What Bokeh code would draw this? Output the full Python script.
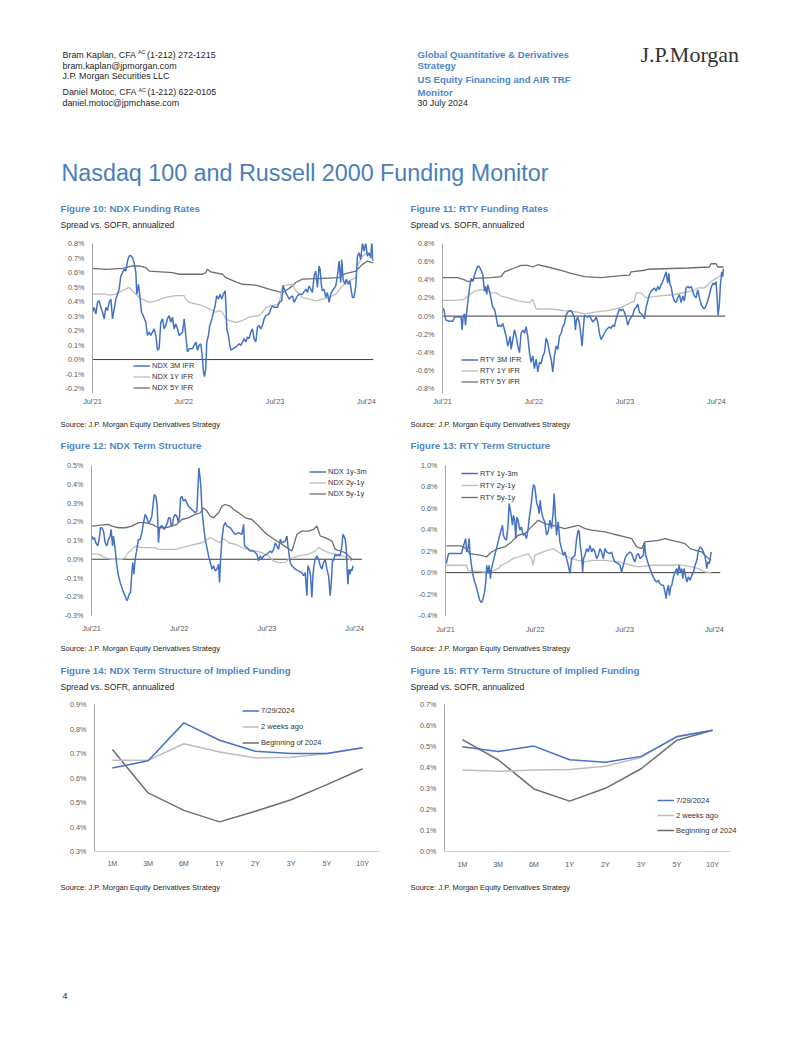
from bokeh.plotting import figure
from bokeh.layouts import column, row
from bokeh.models import (Range1d, FixedTicker, PrintfTickFormatter,
                          Label, Legend, LegendItem)
from bokeh.embed import file_html
from bokeh.resources import INLINE

# ---------------------------------------------------------------- data
year_ticks = [2021.5, 2022.5, 2023.5, 2024.5]
year_tick_labels = ["Jul'21", "Jul'22", "Jul'23", "Jul'24"]

ndx_rate_ticks = [-0.2, -0.1, 0.0, 0.1, 0.2, 0.3, 0.4, 0.5, 0.6, 0.7, 0.8]
rty_rate_ticks = [-0.8, -0.6, -0.4, -0.2, 0.0, 0.2, 0.4, 0.6, 0.8]
ndx_term_ticks = [-0.3, -0.2, -0.1, 0.0, 0.1, 0.2, 0.3, 0.4, 0.5]
rty_term_ticks = [-0.4, -0.2, 0.0, 0.2, 0.4, 0.6, 0.8, 1.0]
ndx_curve_ticks = [0.3, 0.4, 0.5, 0.6, 0.7, 0.8, 0.9]
rty_curve_ticks = [0.0, 0.1, 0.2, 0.3, 0.4, 0.5, 0.6, 0.7]

# Figure 10: NDX funding rates (date as decimal year, spread in %)
ndx_3m_ifr = [
    (2021.500, 0.326), (2021.518, 0.360), (2021.537, 0.314), (2021.555, 0.394), (2021.573, 0.405),
    (2021.591, 0.360), (2021.610, 0.326), (2021.628, 0.280), (2021.646, 0.360), (2021.664, 0.337),
    (2021.683, 0.394), (2021.701, 0.417), (2021.719, 0.280), (2021.756, 0.417), (2021.792, 0.485),
    (2021.810, 0.576), (2021.829, 0.599), (2021.847, 0.622), (2021.865, 0.610), (2021.883, 0.679),
    (2021.902, 0.713), (2021.920, 0.718), (2021.938, 0.702), (2021.956, 0.667), (2021.975, 0.599),
    (2021.985, 0.451), (2022.004, 0.519), (2022.018, 0.440), (2022.037, 0.326), (2022.055, 0.303),
    (2022.084, 0.257), (2022.102, 0.166), (2022.121, 0.189), (2022.139, 0.166), (2022.157, 0.189),
    (2022.175, 0.212), (2022.194, 0.166), (2022.212, 0.064), (2022.230, 0.075), (2022.248, 0.257),
    (2022.267, 0.280), (2022.285, 0.212), (2022.303, 0.235), (2022.321, 0.280), (2022.340, 0.303),
    (2022.358, 0.257), (2022.376, 0.292), (2022.394, 0.212), (2022.413, 0.246), (2022.431, 0.212),
    (2022.449, 0.166), (2022.486, 0.189), (2022.504, 0.280), (2022.522, 0.166), (2022.540, 0.052),
    (2022.559, 0.075), (2022.595, 0.075), (2022.613, 0.098), (2022.632, 0.121), (2022.650, 0.064),
    (2022.668, 0.098), (2022.686, 0.109), (2022.705, 0.007), (2022.715, -0.084), (2022.726, -0.118),
    (2022.741, -0.062), (2022.752, 0.121), (2022.770, 0.166), (2022.785, 0.235), (2022.807, 0.280),
    (2022.825, 0.326), (2022.843, 0.371), (2022.861, 0.440), (2022.880, 0.417), (2022.898, 0.451),
    (2022.916, 0.417), (2022.934, 0.451), (2022.953, 0.474), (2022.960, 0.394), (2022.971, 0.212),
    (2022.989, 0.166), (2023.004, 0.098), (2023.018, 0.064), (2023.040, 0.075), (2023.070, 0.087),
    (2023.106, 0.109), (2023.124, 0.098), (2023.143, 0.121), (2023.161, 0.144), (2023.179, 0.121),
    (2023.197, 0.155), (2023.216, 0.144), (2023.234, 0.189), (2023.252, 0.212), (2023.270, 0.144),
    (2023.289, 0.121), (2023.307, 0.223), (2023.325, 0.235), (2023.343, 0.212), (2023.362, 0.235),
    (2023.380, 0.280), (2023.398, 0.303), (2023.435, 0.314), (2023.453, 0.349), (2023.471, 0.371),
    (2023.489, 0.360), (2023.526, 0.360), (2023.544, 0.394), (2023.573, 0.405), (2023.588, 0.508),
    (2023.617, 0.462), (2023.635, 0.440), (2023.653, 0.417), (2023.690, 0.440), (2023.708, 0.394),
    (2023.726, 0.417), (2023.745, 0.440), (2023.763, 0.451), (2023.799, 0.451), (2023.836, 0.485),
    (2023.854, 0.462), (2023.872, 0.508), (2023.909, 0.462), (2023.927, 0.576), (2023.945, 0.610),
    (2023.964, 0.497), (2023.982, 0.645), (2023.993, 0.622), (2024.008, 0.508), (2024.019, 0.474),
    (2024.037, 0.485), (2024.055, 0.428), (2024.073, 0.462), (2024.092, 0.394), (2024.110, 0.451),
    (2024.128, 0.474), (2024.165, 0.508), (2024.183, 0.576), (2024.201, 0.679), (2024.219, 0.531),
    (2024.230, 0.690), (2024.245, 0.554), (2024.263, 0.519), (2024.281, 0.554), (2024.300, 0.519),
    (2024.318, 0.542), (2024.347, 0.428), (2024.365, 0.428), (2024.384, 0.508), (2024.402, 0.713),
    (2024.420, 0.736), (2024.438, 0.690), (2024.457, 0.804), (2024.475, 0.747), (2024.493, 0.804),
    (2024.511, 0.713), (2024.530, 0.736), (2024.548, 0.702), (2024.559, 0.804), (2024.573, 0.679),
]
ndx_1y_ifr = [
    (2021.500, 0.451), (2021.646, 0.451), (2021.683, 0.444), (2021.756, 0.451), (2021.829, 0.474),
    (2021.902, 0.497), (2021.938, 0.474), (2022.011, 0.428), (2022.121, 0.394), (2022.194, 0.405),
    (2022.303, 0.428), (2022.413, 0.440), (2022.504, 0.440), (2022.522, 0.417), (2022.559, 0.394),
    (2022.632, 0.383), (2022.705, 0.371), (2022.778, 0.349), (2022.851, 0.326), (2022.887, 0.337),
    (2022.924, 0.326), (2022.960, 0.280), (2022.997, 0.269), (2023.070, 0.257), (2023.143, 0.269),
    (2023.216, 0.292), (2023.325, 0.303), (2023.362, 0.326), (2023.398, 0.360), (2023.544, 0.383),
    (2023.581, 0.508), (2023.690, 0.519), (2023.726, 0.474), (2023.799, 0.428), (2023.945, 0.405),
    (2024.019, 0.417), (2024.092, 0.428), (2024.165, 0.451), (2024.238, 0.508), (2024.311, 0.542),
    (2024.384, 0.565), (2024.402, 0.645), (2024.457, 0.713), (2024.511, 0.736), (2024.573, 0.690),
]
ndx_5y_ifr = [
    (2021.500, 0.629), (2021.646, 0.622), (2021.829, 0.629), (2021.938, 0.645), (2022.011, 0.645),
    (2022.084, 0.633), (2022.121, 0.610), (2022.376, 0.599), (2022.449, 0.588), (2022.705, 0.588),
    (2022.741, 0.599), (2022.759, 0.622), (2022.796, 0.604), (2022.924, 0.588), (2022.960, 0.565),
    (2023.070, 0.535), (2023.143, 0.519), (2023.289, 0.513), (2023.435, 0.485), (2023.544, 0.467),
    (2023.581, 0.462), (2023.617, 0.474), (2023.690, 0.508), (2023.726, 0.531), (2023.799, 0.554),
    (2024.019, 0.560), (2024.200, 0.565), (2024.260, 0.590), (2024.384, 0.610), (2024.420, 0.633),
    (2024.457, 0.656), (2024.511, 0.679), (2024.573, 0.667),
]

# Figure 11: RTY funding rates
rty_3m_ifr = [
    (2021.500, 0.078), (2021.515, 0.078), (2021.529, -0.011), (2021.540, -0.046), (2021.577, -0.057),
    (2021.613, -0.057), (2021.631, -0.011), (2021.704, -0.011), (2021.715, -0.153), (2021.726, -0.011),
    (2021.741, 0.025), (2021.752, -0.100), (2021.763, 0.025), (2021.777, 0.149), (2021.796, 0.310),
    (2021.814, 0.416), (2021.832, 0.381), (2021.850, 0.452), (2021.869, 0.505), (2021.887, 0.552),
    (2021.905, 0.541), (2021.923, 0.505), (2021.942, 0.452), (2021.960, 0.274), (2021.971, 0.327),
    (2021.985, 0.238), (2021.996, 0.345), (2022.015, 0.274), (2022.033, 0.185), (2022.051, 0.096),
    (2022.069, 0.078), (2022.088, -0.011), (2022.106, -0.117), (2022.124, -0.100), (2022.142, -0.117),
    (2022.161, -0.082), (2022.179, -0.153), (2022.197, -0.224), (2022.215, -0.331), (2022.226, -0.295),
    (2022.241, -0.224), (2022.252, -0.367), (2022.270, -0.260), (2022.288, -0.153), (2022.307, -0.224),
    (2022.325, -0.331), (2022.343, -0.402), (2022.361, -0.189), (2022.380, -0.153), (2022.398, -0.189),
    (2022.416, -0.117), (2022.434, -0.224), (2022.453, -0.402), (2022.471, -0.509), (2022.489, -0.438),
    (2022.507, -0.580), (2022.526, -0.473), (2022.544, -0.616), (2022.562, -0.509), (2022.580, -0.527),
    (2022.599, -0.438), (2022.617, -0.402), (2022.635, -0.242), (2022.653, -0.295), (2022.672, -0.402),
    (2022.690, -0.473), (2022.708, -0.616), (2022.726, -0.438), (2022.745, -0.331), (2022.763, -0.367),
    (2022.781, -0.224), (2022.799, -0.189), (2022.818, -0.117), (2022.836, -0.082), (2022.854, 0.007),
    (2022.872, 0.043), (2022.891, 0.060), (2022.909, 0.060), (2022.927, 0.025), (2022.945, -0.011),
    (2022.956, -0.153), (2022.967, -0.046), (2022.982, -0.011), (2023.000, -0.082), (2023.018, -0.224),
    (2023.029, -0.331), (2023.044, -0.117), (2023.055, 0.007), (2023.091, -0.011), (2023.110, 0.007),
    (2023.128, -0.028), (2023.146, -0.064), (2023.164, -0.046), (2023.183, -0.011), (2023.201, -0.064),
    (2023.219, -0.189), (2023.237, -0.260), (2023.256, -0.224), (2023.274, -0.189), (2023.292, -0.153),
    (2023.329, -0.117), (2023.347, -0.135), (2023.365, -0.100), (2023.383, -0.117), (2023.402, -0.028),
    (2023.420, 0.025), (2023.438, 0.078), (2023.456, 0.060), (2023.475, 0.078), (2023.493, 0.043),
    (2023.511, -0.011), (2023.529, -0.100), (2023.548, -0.046), (2023.566, -0.011), (2023.584, 0.007),
    (2023.602, 0.078), (2023.621, 0.096), (2023.639, 0.132), (2023.657, 0.043), (2023.675, 0.025),
    (2023.694, 0.007), (2023.712, -0.028), (2023.730, 0.096), (2023.748, 0.167), (2023.767, 0.238),
    (2023.785, 0.274), (2023.803, 0.292), (2023.821, 0.310), (2023.840, 0.274), (2023.858, 0.327),
    (2023.876, 0.292), (2023.894, 0.345), (2023.913, 0.381), (2023.931, 0.434), (2023.949, 0.488),
    (2023.967, 0.363), (2023.978, 0.470), (2023.993, 0.345), (2024.004, 0.327), (2024.022, 0.221),
    (2024.040, 0.167), (2024.059, 0.149), (2024.077, 0.203), (2024.095, 0.238), (2024.113, 0.149),
    (2024.132, 0.221), (2024.150, 0.167), (2024.168, 0.310), (2024.186, 0.327), (2024.205, 0.310),
    (2024.223, 0.327), (2024.241, 0.274), (2024.259, 0.221), (2024.278, 0.203), (2024.296, 0.292),
    (2024.314, 0.203), (2024.332, 0.132), (2024.351, 0.096), (2024.369, 0.078), (2024.387, 0.114),
    (2024.405, 0.167), (2024.424, 0.238), (2024.442, 0.310), (2024.460, 0.363), (2024.478, 0.345),
    (2024.497, 0.381), (2024.508, 0.203), (2024.518, 0.007), (2024.533, 0.132), (2024.544, 0.345),
    (2024.559, 0.488), (2024.570, 0.434), (2024.577, 0.523),
]
rty_1y_ifr = [
    (2021.500, 0.174), (2021.631, 0.174), (2021.741, 0.185), (2021.777, 0.221), (2021.850, 0.274),
    (2021.923, 0.292), (2021.978, 0.274), (2022.033, 0.256), (2022.088, 0.256), (2022.142, 0.221),
    (2022.215, 0.203), (2022.325, 0.167), (2022.453, 0.149), (2022.489, 0.185), (2022.507, 0.132),
    (2022.526, 0.078), (2022.690, 0.078), (2022.836, 0.060), (2022.982, 0.043), (2023.055, 0.025),
    (2023.164, 0.043), (2023.310, 0.060), (2023.383, 0.078), (2023.456, 0.096), (2023.529, 0.132),
    (2023.602, 0.167), (2023.621, 0.256), (2023.675, 0.256), (2023.730, 0.203), (2023.858, 0.221),
    (2024.040, 0.238), (2024.223, 0.274), (2024.296, 0.310), (2024.369, 0.310), (2024.442, 0.381),
    (2024.497, 0.416), (2024.577, 0.470),
]
rty_5y_ifr = [
    (2021.500, 0.423), (2021.668, 0.423), (2021.741, 0.399), (2021.777, 0.381), (2021.814, 0.388),
    (2021.850, 0.416), (2022.033, 0.423), (2022.142, 0.434), (2022.179, 0.488), (2022.288, 0.530),
    (2022.361, 0.559), (2022.434, 0.559), (2022.489, 0.541), (2022.544, 0.566), (2022.653, 0.541),
    (2022.799, 0.505), (2022.909, 0.470), (2023.055, 0.434), (2023.237, 0.423), (2023.456, 0.445),
    (2023.548, 0.452), (2023.566, 0.488), (2023.712, 0.505), (2023.748, 0.516), (2024.186, 0.530),
    (2024.424, 0.541), (2024.442, 0.577), (2024.497, 0.577), (2024.515, 0.541), (2024.577, 0.541),
]

# Figure 12: NDX term structure
ndx_1y_3m = [
    (2021.504, 0.124), (2021.519, 0.106), (2021.534, 0.115), (2021.549, 0.088), (2021.572, 0.071),
    (2021.587, 0.106), (2021.603, 0.168), (2021.618, 0.168), (2021.637, 0.150), (2021.656, 0.088),
    (2021.675, 0.071), (2021.694, 0.106), (2021.713, 0.124), (2021.724, 0.159), (2021.740, 0.071),
    (2021.751, 0.124), (2021.770, 0.053), (2021.789, -0.035), (2021.808, -0.088), (2021.827, -0.124),
    (2021.846, -0.150), (2021.865, -0.177), (2021.884, -0.195), (2021.903, -0.221), (2021.914, -0.212),
    (2021.930, -0.186), (2021.945, -0.177), (2021.960, -0.071), (2021.971, -0.018), (2021.983, -0.080),
    (2021.998, 0.000), (2022.017, 0.053), (2022.036, 0.106), (2022.055, 0.106), (2022.074, 0.142),
    (2022.086, 0.177), (2022.097, 0.204), (2022.112, 0.239), (2022.131, 0.221), (2022.150, 0.195),
    (2022.169, 0.204), (2022.188, 0.230), (2022.200, 0.283), (2022.215, 0.345), (2022.234, 0.336),
    (2022.249, 0.283), (2022.264, 0.088), (2022.276, 0.168), (2022.291, 0.177), (2022.310, 0.177),
    (2022.329, 0.159), (2022.348, 0.177), (2022.367, 0.195), (2022.378, 0.221), (2022.397, 0.221),
    (2022.409, 0.177), (2022.424, 0.186), (2022.435, 0.221), (2022.454, 0.239), (2022.473, 0.230),
    (2022.492, 0.195), (2022.504, 0.230), (2022.515, 0.327), (2022.530, 0.336), (2022.549, 0.310),
    (2022.568, 0.319), (2022.587, 0.301), (2022.606, 0.283), (2022.644, 0.265), (2022.682, 0.248),
    (2022.701, 0.257), (2022.713, 0.372), (2022.724, 0.487), (2022.736, 0.442), (2022.747, 0.389),
    (2022.759, 0.265), (2022.778, 0.177), (2022.797, 0.106), (2022.816, 0.062), (2022.835, 0.018),
    (2022.854, -0.018), (2022.873, -0.053), (2022.892, -0.035), (2022.911, -0.062), (2022.930, -0.053),
    (2022.949, -0.027), (2022.960, -0.124), (2022.972, 0.000), (2022.987, 0.106), (2023.006, 0.177),
    (2023.025, 0.195), (2023.044, 0.177), (2023.082, 0.168), (2023.120, 0.142), (2023.139, 0.133),
    (2023.177, 0.142), (2023.215, 0.133), (2023.234, 0.186), (2023.245, 0.071), (2023.272, 0.062),
    (2023.310, 0.044), (2023.348, 0.044), (2023.386, 0.027), (2023.405, -0.009), (2023.424, 0.018),
    (2023.443, 0.000), (2023.462, 0.018), (2023.500, 0.027), (2023.538, 0.044), (2023.557, 0.035),
    (2023.576, 0.053), (2023.595, 0.088), (2023.614, 0.071), (2023.633, 0.053), (2023.652, 0.106),
    (2023.671, 0.088), (2023.709, 0.097), (2023.728, 0.124), (2023.740, 0.071), (2023.755, 0.018),
    (2023.766, -0.018), (2023.785, -0.035), (2023.823, -0.053), (2023.861, -0.062), (2023.899, -0.071),
    (2023.918, -0.088), (2023.937, -0.071), (2023.956, -0.195), (2023.968, -0.035), (2023.983, -0.053),
    (2023.998, -0.088), (2024.013, -0.204), (2024.025, -0.088), (2024.036, -0.035), (2024.051, 0.000),
    (2024.070, 0.018), (2024.089, 0.000), (2024.108, -0.035), (2024.127, -0.053), (2024.146, -0.018),
    (2024.165, 0.000), (2024.184, -0.053), (2024.203, -0.088), (2024.222, -0.195), (2024.234, -0.124),
    (2024.249, 0.000), (2024.260, -0.009), (2024.279, 0.027), (2024.298, 0.018), (2024.317, 0.027),
    (2024.336, 0.018), (2024.355, 0.071), (2024.367, 0.133), (2024.378, 0.124), (2024.393, 0.106),
    (2024.405, 0.053), (2024.416, -0.071), (2024.424, -0.133), (2024.435, -0.053), (2024.447, -0.080),
    (2024.458, -0.053), (2024.470, -0.062), (2024.481, -0.035),
]
ndx_2y_1y = [
    (2021.504, 0.027), (2021.580, 0.027), (2021.656, 0.009), (2021.732, 0.000), (2021.846, 0.000),
    (2021.884, 0.009), (2021.903, 0.027), (2021.941, 0.044), (2021.979, 0.062), (2022.017, 0.071),
    (2022.055, 0.062), (2022.226, 0.062), (2022.264, 0.053), (2022.454, 0.053), (2022.530, 0.062),
    (2022.606, 0.071), (2022.682, 0.080), (2022.759, 0.088), (2022.816, 0.106), (2022.854, 0.115),
    (2022.892, 0.106), (2022.930, 0.097), (2022.968, 0.088), (2022.987, 0.106), (2023.025, 0.106),
    (2023.063, 0.088), (2023.139, 0.080), (2023.215, 0.062), (2023.291, 0.053), (2023.367, 0.044),
    (2023.443, 0.035), (2023.519, 0.018), (2023.576, -0.009), (2023.633, -0.018), (2023.709, -0.018),
    (2023.747, 0.000), (2023.804, 0.009), (2023.861, 0.018), (2023.975, 0.027), (2024.051, 0.044),
    (2024.089, 0.062), (2024.127, 0.053), (2024.203, 0.035), (2024.279, 0.027), (2024.355, 0.018),
    (2024.413, 0.009), (2024.470, -0.009),
]
ndx_5y_1y = [
    (2021.504, 0.177), (2021.580, 0.181), (2021.694, 0.186), (2021.732, 0.177), (2021.808, 0.168),
    (2021.884, 0.168), (2021.960, 0.177), (2022.036, 0.195), (2022.112, 0.195), (2022.188, 0.186),
    (2022.264, 0.168), (2022.340, 0.168), (2022.416, 0.177), (2022.473, 0.186), (2022.530, 0.212),
    (2022.606, 0.221), (2022.682, 0.239), (2022.739, 0.248), (2022.778, 0.274), (2022.816, 0.257),
    (2022.854, 0.230), (2022.892, 0.221), (2022.949, 0.248), (2022.987, 0.283), (2023.025, 0.292),
    (2023.082, 0.283), (2023.120, 0.265), (2023.177, 0.248), (2023.253, 0.221), (2023.329, 0.212),
    (2023.386, 0.186), (2023.443, 0.159), (2023.500, 0.133), (2023.557, 0.115), (2023.614, 0.097),
    (2023.671, 0.080), (2023.728, 0.062), (2023.785, 0.044), (2023.842, 0.133), (2023.899, 0.150),
    (2023.975, 0.150), (2024.032, 0.159), (2024.070, 0.177), (2024.108, 0.124), (2024.165, 0.115),
    (2024.241, 0.097), (2024.279, 0.053), (2024.336, 0.044), (2024.393, 0.035), (2024.432, 0.018),
    (2024.470, 0.000),
]

# Figure 13: RTY term structure
rty_1y_3m = [
    (2021.509, 0.084), (2021.520, 0.131), (2021.535, 0.178), (2021.677, 0.178), (2021.714, 0.287),
    (2021.725, 0.318), (2021.736, 0.193), (2021.751, 0.224), (2021.763, 0.318), (2021.774, 0.178),
    (2021.789, 0.069), (2021.807, -0.025), (2021.826, -0.087), (2021.844, -0.134), (2021.863, -0.196),
    (2021.882, -0.259), (2021.901, -0.280), (2021.919, -0.243), (2021.938, -0.165), (2021.949, -0.087),
    (2021.960, 0.069), (2021.975, -0.009), (2021.986, 0.069), (2022.001, -0.056), (2022.012, 0.037),
    (2022.031, 0.100), (2022.049, 0.162), (2022.068, 0.224), (2022.087, 0.287), (2022.105, 0.349),
    (2022.124, 0.411), (2022.135, 0.442), (2022.146, 0.349), (2022.161, 0.318), (2022.180, 0.302),
    (2022.198, 0.442), (2022.209, 0.645), (2022.221, 0.598), (2022.235, 0.520), (2022.247, 0.442),
    (2022.258, 0.536), (2022.273, 0.474), (2022.284, 0.318), (2022.295, 0.520), (2022.310, 0.489),
    (2022.329, 0.396), (2022.347, 0.427), (2022.366, 0.349), (2022.385, 0.364), (2022.403, 0.318),
    (2022.422, 0.411), (2022.433, 0.505), (2022.444, 0.567), (2022.459, 0.660), (2022.470, 0.754),
    (2022.481, 0.822), (2022.496, 0.801), (2022.507, 0.723), (2022.518, 0.645), (2022.533, 0.614),
    (2022.544, 0.551), (2022.556, 0.676), (2022.571, 0.567), (2022.589, 0.505), (2022.608, 0.474),
    (2022.627, 0.349), (2022.645, 0.380), (2022.664, 0.489), (2022.683, 0.411), (2022.701, 0.567),
    (2022.712, 0.738), (2022.723, 0.567), (2022.738, 0.349), (2022.757, 0.474), (2022.776, 0.287),
    (2022.794, 0.224), (2022.813, 0.162), (2022.832, 0.193), (2022.850, 0.131), (2022.869, 0.069),
    (2022.888, -0.009), (2022.907, 0.131), (2022.944, 0.162), (2022.962, 0.318), (2022.981, 0.396),
    (2022.992, 0.380), (2023.003, 0.255), (2023.018, 0.162), (2023.029, 0.006), (2023.040, 0.131),
    (2023.055, 0.162), (2023.074, 0.224), (2023.092, 0.193), (2023.111, 0.255), (2023.130, 0.193),
    (2023.148, 0.224), (2023.167, 0.193), (2023.185, 0.131), (2023.204, 0.162), (2023.222, 0.224),
    (2023.241, 0.193), (2023.260, 0.131), (2023.278, 0.224), (2023.297, 0.193), (2023.334, 0.178),
    (2023.353, 0.193), (2023.371, 0.131), (2023.390, 0.100), (2023.427, 0.084), (2023.446, 0.069),
    (2023.464, 0.006), (2023.483, 0.069), (2023.502, 0.131), (2023.520, 0.162), (2023.557, 0.193),
    (2023.576, 0.178), (2023.595, 0.131), (2023.613, 0.100), (2023.632, 0.162), (2023.651, 0.178),
    (2023.669, 0.131), (2023.707, 0.162), (2023.718, 0.287), (2023.733, 0.162), (2023.755, 0.100),
    (2023.781, 0.037), (2023.800, -0.009), (2023.818, -0.040), (2023.837, -0.072), (2023.855, -0.087),
    (2023.874, -0.072), (2023.893, -0.103), (2023.911, -0.118), (2023.930, -0.118), (2023.949, -0.181),
    (2023.960, -0.243), (2023.971, -0.165), (2023.986, -0.118), (2023.997, -0.212), (2024.012, -0.134),
    (2024.023, -0.118), (2024.042, -0.040), (2024.060, 0.006), (2024.079, 0.037), (2024.090, -0.025),
    (2024.105, 0.069), (2024.120, 0.006), (2024.135, 0.037), (2024.146, -0.056), (2024.161, 0.037),
    (2024.172, -0.009), (2024.191, -0.087), (2024.209, -0.040), (2024.228, -0.072), (2024.247, -0.025),
    (2024.265, 0.006), (2024.284, 0.069), (2024.303, 0.115), (2024.321, 0.209), (2024.340, 0.240),
    (2024.359, 0.224), (2024.377, 0.193), (2024.396, 0.146), (2024.415, 0.037), (2024.426, 0.100),
    (2024.441, 0.084), (2024.452, 0.131), (2024.463, 0.193),
]
rty_2y_1y = [
    (2021.509, 0.069), (2021.733, 0.069), (2021.751, 0.022), (2021.938, 0.006), (2022.012, 0.012),
    (2022.087, 0.037), (2022.124, 0.069), (2022.198, 0.100), (2022.254, 0.131), (2022.310, 0.146),
    (2022.366, 0.162), (2022.422, 0.178), (2022.459, 0.131), (2022.478, 0.069), (2022.496, 0.162),
    (2022.589, 0.193), (2022.645, 0.209), (2022.701, 0.224), (2022.757, 0.193), (2022.832, 0.162),
    (2022.907, 0.131), (2022.981, 0.115), (2023.055, 0.100), (2023.130, 0.115), (2023.278, 0.115),
    (2023.427, 0.100), (2023.502, 0.084), (2023.576, 0.069), (2023.651, 0.053), (2023.800, 0.069),
    (2024.023, 0.069), (2024.098, 0.075), (2024.247, 0.053), (2024.321, 0.037), (2024.396, 0.006),
    (2024.463, 0.000),
]
rty_5y_1y = [
    (2021.509, 0.249), (2021.677, 0.249), (2021.733, 0.224), (2021.770, 0.178), (2021.901, 0.162),
    (2021.956, 0.146), (2022.012, 0.193), (2022.087, 0.224), (2022.161, 0.240), (2022.235, 0.287),
    (2022.310, 0.349), (2022.385, 0.364), (2022.459, 0.427), (2022.533, 0.489), (2022.571, 0.474),
    (2022.608, 0.458), (2022.757, 0.427), (2022.832, 0.411), (2022.907, 0.427), (2022.981, 0.442),
    (2023.055, 0.411), (2023.130, 0.396), (2023.278, 0.380), (2023.353, 0.364), (2023.427, 0.349),
    (2023.502, 0.333), (2023.576, 0.318), (2023.632, 0.240), (2023.688, 0.224), (2023.725, 0.287),
    (2023.874, 0.302), (2023.949, 0.318), (2024.023, 0.302), (2024.098, 0.287), (2024.172, 0.271),
    (2024.228, 0.224), (2024.284, 0.209), (2024.359, 0.193), (2024.433, 0.131), (2024.463, 0.115),
]

# Figures 14/15: term structure of implied funding
tenors = ["1M", "3M", "6M", "1Y", "2Y", "3Y", "5Y", "10Y"]
ndx_curve_0729 = [0.641, 0.670, 0.825, 0.754, 0.709, 0.700, 0.700, 0.723]
ndx_curve_2w = [0.672, 0.672, 0.740, 0.706, 0.682, 0.685, 0.700, 0.723]
ndx_curve_boy = [0.716, 0.539, 0.468, 0.421, 0.464, 0.511, 0.573, 0.638]
rty_curve_0729 = [0.499, 0.476, 0.502, 0.437, 0.425, 0.453, 0.546, 0.577]
rty_curve_2w = [0.388, 0.382, 0.388, 0.391, 0.406, 0.448, 0.549, 0.578]
rty_curve_boy = [0.533, 0.437, 0.298, 0.240, 0.301, 0.394, 0.530, 0.577]

# ---------------------------------------------------------------- style
SANS = "Liberation Sans"
SERIF = "Liberation Serif"
BLUE = "#4472C4"
LGRAY = "#BDBDBD"
DGRAY = "#6E6E6E"
HEAD_BLUE = "#4F86C6"
TITLE_BLUE = "#4A7EBB"
AXIS_GRAY = "#A6A6A6"
LABEL_GRAY = "#595959"
ZERO_LINE = "#3C3C3C"
TEXT = "#1E1E1E"
SOURCE = "Source: J.P. Morgan Equity Derivatives Strategy"
SUBTITLE = "Spread vs. SOFR, annualized"

# layout: the page content starts at the window's top-left corner (0, 0);
# left column canvas spans x 0..401, right column x 401..794.
LEFT_X0, LEFT_W = 0, 401
RIGHT_X0, RIGHT_W = 401, 393
PAGE_W = 794


def chart_fig(cx0, cy0, w, h, frame, x_range, y_range):
    fl, fr, ft, fb = frame
    p = figure(width=w, height=h, x_range=x_range, y_range=y_range,
               output_backend="svg", toolbar_location=None,
               min_border_left=int(round(fl - cx0)), min_border_right=int(round(cx0 + w - fr)),
               min_border_top=int(round(ft - cy0)), min_border_bottom=int(round(cy0 + h - fb)),
               background_fill_color="white", border_fill_color="white",
               outline_line_color=None)
    p.xgrid.visible = False
    p.ygrid.visible = False
    return p


def style_axes(p, yticks, xstandoff, ystandoff=8):
    for ax in (p.xaxis[0], p.yaxis[0]):
        ax.major_tick_out = 0
        ax.major_tick_in = 0
        ax.minor_tick_out = 0
        ax.minor_tick_in = 0
        ax.major_label_text_font = SANS
        ax.major_label_text_font_size = "7.2px"
        ax.major_label_text_color = LABEL_GRAY
    p.yaxis[0].ticker = FixedTicker(ticks=yticks)
    p.yaxis[0].formatter = PrintfTickFormatter(format="%.1f%%")
    p.yaxis[0].axis_line_color = AXIS_GRAY
    p.yaxis[0].major_label_standoff = ystandoff
    p.xaxis[0].major_label_standoff = xstandoff


def add_legend(p, items, loc, row_h, spacing=0, glyph_w=17, standoff=2):
    lg = Legend(items=[LegendItem(label=l, renderers=[r]) for l, r in items],
                location=loc, padding=0, margin=0, spacing=spacing,
                glyph_width=glyph_w, glyph_height=row_h, label_height=row_h,
                label_width=80, label_standoff=standoff,
                border_line_color=None, background_fill_alpha=0,
                label_text_font=SANS, label_text_font_size="7.5px",
                label_text_color="#333333")
    p.add_layout(lg)


def ts_chart(cx0, w, cy0, h, frame, xr, zero_end, yr, yticks, series, names,
             legend_loc, row_h, xstandoff):
    p = chart_fig(cx0, cy0, w, h, frame, Range1d(*xr), Range1d(*yr))
    style_axes(p, yticks, xstandoff)
    p.xaxis[0].ticker = FixedTicker(ticks=year_ticks)
    p.xaxis[0].major_label_overrides = dict(zip(year_ticks, year_tick_labels))
    p.xaxis[0].axis_line_color = None
    # horizontal axis line at 0% running from the first to the last date slot
    p.line([xr[0], zero_end], [0, 0], line_color=ZERO_LINE, line_width=1)
    cols = [BLUE, LGRAY, DGRAY]
    widths = [1.5, 1.3, 1.3]
    rend = [None, None, None]
    for i in (2, 1, 0):
        data = series[i]
        rend[i] = p.line([d[0] for d in data], [d[1] for d in data],
                         line_color=cols[i], line_width=widths[i])
    add_legend(p, list(zip(names, rend)), legend_loc, row_h)
    return p


# row B: y 233..408
p10 = ts_chart(LEFT_X0, LEFT_W, 233, 175, (92, 373, 243, 394), (2021.5, 2024.578), 2024.578,
               (-0.234, 0.8), ndx_rate_ticks, [ndx_3m_ifr, ndx_1y_ifr, ndx_5y_ifr],
               ["NDX 3M IFR", "NDX 1Y IFR", "NDX 5Y IFR"], (41, 0), 11, 3)
p11 = ts_chart(RIGHT_X0, RIGHT_W, 233, 175, (442, 725, 240, 395), (2021.5, 2024.6), 2024.6,
               (-0.853, 0.8), rty_rate_ticks, [rty_3m_ifr, rty_1y_ifr, rty_5y_ifr],
               ["RTY 3M IFR", "RTY 1Y IFR", "RTY 5Y IFR"], (19, 6), 11, 3)
# row C: y 456..636
p12 = ts_chart(LEFT_X0, LEFT_W, 456, 180, (91, 372, 464, 615), (2021.5, 2024.704), 2024.583,
               (-0.3, 0.5), ndx_term_ticks, [ndx_1y_3m, ndx_2y_1y, ndx_5y_1y],
               ["NDX 1y-3m", "NDX 2y-1y", "NDX 5y-1y"], (218, 116), 11, 8)
p13 = ts_chart(RIGHT_X0, RIGHT_W, 456, 180, (445, 720, 465, 615), (2021.5, 2024.567), 2024.567,
               (-0.4, 1.0), rty_term_ticks, [rty_1y_3m, rty_2y_1y, rty_5y_1y],
               ["RTY 1y-3m", "RTY 2y-1y", "RTY 5y-1y"], (16, 112), 12, 9)

# tenor slots: each tenor sits in the middle of its own unit-wide slot
tenor_pos = [i + 0.5 for i in range(len(tenors))]


def curve_chart(cx0, w, frame, x_end, yr, yticks, c0, c1, c2, legend_loc, row_h, xstandoff):
    p = chart_fig(cx0, 695, w, 179, frame, Range1d(0, x_end), Range1d(*yr))
    style_axes(p, yticks, xstandoff)
    p.xaxis[0].ticker = FixedTicker(ticks=tenor_pos)
    p.xaxis[0].major_label_overrides = dict(zip(tenor_pos, tenors))
    p.xaxis[0].axis_line_color = None
    # category axis line spanning the eight tenor slots
    p.line([0, len(tenors)], [yr[0], yr[0]], line_color=AXIS_GRAY, line_width=1)
    r2 = p.line(tenor_pos, c2, line_color=DGRAY, line_width=1.5)
    r1 = p.line(tenor_pos, c1, line_color=LGRAY, line_width=1.5)
    r0 = p.line(tenor_pos, c0, line_color=BLUE, line_width=1.5)
    add_legend(p, [("7/29/2024", r0), ("2 weeks ago", r1), ("Beginning of 2024", r2)],
               legend_loc, row_h, spacing=1)
    return p


# row D: y 695..874 ; each tenor slot is ~35.75 px wide
p14 = curve_chart(LEFT_X0, LEFT_W, (94, 380, 704, 851), 8, (0.3, 0.9), ndx_curve_ticks,
                  ndx_curve_0729, ndx_curve_2w, ndx_curve_boy, (148, 101), 15, 7)
p15 = curve_chart(RIGHT_X0, RIGHT_W, (444, 748, 703, 854), 8.503, (0.0, 0.7), rty_curve_ticks,
                  rty_curve_0729, rty_curve_2w, rty_curve_boy, (213, 14), 14, 8)


# ---------------------------------------------------------------- text strips (page coordinates)
def strip(y0, h):
    p = figure(width=PAGE_W, height=h, x_range=Range1d(0, PAGE_W), y_range=Range1d(y0 + h, y0),
               x_axis_type=None, y_axis_type=None, output_backend="svg",
               toolbar_location=None, min_border=0, min_border_left=0, min_border_right=0,
               min_border_top=0, min_border_bottom=0, outline_line_color=None,
               background_fill_color="white", border_fill_color="white")
    p.xgrid.visible = False
    p.ygrid.visible = False
    return p


def t(p, x, y, s, size, color=TEXT, bold=False, font=SANS):
    p.add_layout(Label(x=x, y=y, text=s, text_font=font, text_font_size=f"{size}px",
                       text_font_style="bold" if bold else "normal", text_color=color,
                       text_baseline="middle", text_align="left"))


def fig_title(p, x, y, s):
    t(p, x, y, s, 9.7, HEAD_BLUE, bold=True)


s_a = strip(0, 233)
t(s_a, 62, 54, "Bram Kaplan, CFA", 8.9)
t(s_a, 137.5, 51.5, "AC", 5.3)
t(s_a, 146.5, 54, "(1-212) 272-1215", 8.9)
t(s_a, 62, 65, "bram.kaplan@jpmorgan.com", 8.9)
t(s_a, 62, 75.7, "J.P. Morgan Securities LLC", 8.9)
t(s_a, 62, 91.7, "Daniel Motoc, CFA", 8.9)
t(s_a, 138, 89.2, "AC", 5.3)
t(s_a, 147, 91.7, "(1-212) 622-0105", 8.9)
t(s_a, 62, 102.7, "daniel.motoc@jpmchase.com", 8.9)
t(s_a, 417, 54, "Global Quantitative & Derivatives", 9.6, HEAD_BLUE, bold=True)
t(s_a, 417, 65, "Strategy", 9.6, HEAD_BLUE, bold=True)
t(s_a, 417, 79.3, "US Equity Financing and AIR TRF", 9.6, HEAD_BLUE, bold=True)
t(s_a, 417, 91.7, "Monitor", 9.6, HEAD_BLUE, bold=True)
t(s_a, 417, 102.7, "30 July 2024", 8.9)
t(s_a, 640, 54, "J.P.Morgan", 22, "#333333", font=SERIF)
t(s_a, 61, 172, "Nasdaq 100 and Russell 2000 Funding Monitor", 23.3, TITLE_BLUE)
fig_title(s_a, 60, 208.3, "Figure 10: NDX Funding Rates")
t(s_a, 60, 224.3, SUBTITLE, 8.6)
fig_title(s_a, 410, 208.3, "Figure 11: RTY Funding Rates")
t(s_a, 410, 224.3, SUBTITLE, 8.6)

s_b = strip(408, 48)
t(s_b, 60, 424, SOURCE, 7.5)
t(s_b, 410, 424, SOURCE, 7.5)
fig_title(s_b, 60, 445, "Figure 12: NDX Term Structure")
fig_title(s_b, 410, 445, "Figure 13: RTY Term Structure")

s_c = strip(636, 59)
t(s_c, 60, 648, SOURCE, 7.5)
t(s_c, 410, 648, SOURCE, 7.5)
fig_title(s_c, 60, 670, "Figure 14: NDX Term Structure of Implied Funding")
fig_title(s_c, 410, 670, "Figure 15: RTY Term Structure of Implied Funding")
t(s_c, 60, 686, SUBTITLE, 8.6)
t(s_c, 410, 686, SUBTITLE, 8.6)

s_d = strip(874, 155)
t(s_d, 60, 887, SOURCE, 7.5)
t(s_d, 410, 887, SOURCE, 7.5)
t(s_d, 62, 995, "4", 9)

layout = column(s_a, row(p10, p11), s_b, row(p12, p13), s_c, row(p14, p15), s_d)
open("out.html", "w").write(file_html(layout, INLINE))
